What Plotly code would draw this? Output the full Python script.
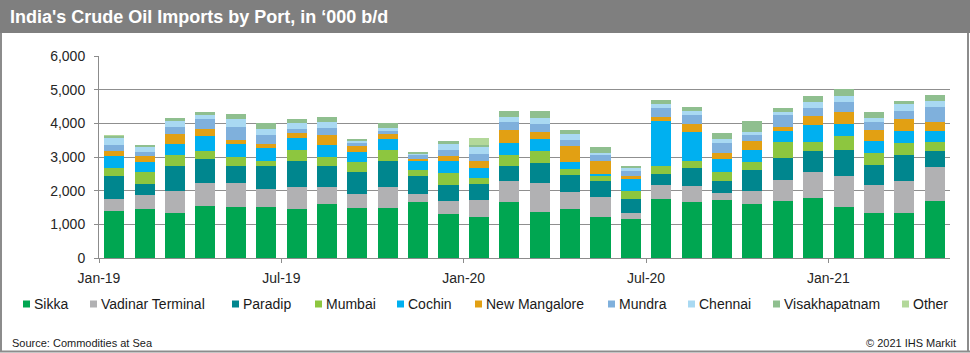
import plotly.graph_objects as go

months = ["Jan-19", "Feb-19", "Mar-19", "Apr-19", "May-19", "Jun-19", "Jul-19", "Aug-19",
          "Sep-19", "Oct-19", "Nov-19", "Dec-19", "Jan-20", "Feb-20", "Mar-20", "Apr-20",
          "May-20", "Jun-20", "Jul-20", "Aug-20", "Sep-20", "Oct-20", "Nov-20", "Dec-20",
          "Jan-21", "Feb-21", "Mar-21", "Apr-21"]

sikka = [1390, 1460, 1330, 1540, 1520, 1510, 1460, 1600, 1490, 1490, 1670, 1300, 1220, 1670,
         1360, 1450, 1220, 1170, 1750, 1660, 1710, 1600, 1700, 1790, 1510, 1350, 1330, 1680]
vadinar = [360, 400, 670, 700, 710, 545, 640, 500, 400, 610, 230, 400, 500, 620,
           870, 520, 590, 170, 410, 470, 230, 400, 620, 750, 930, 820, 960, 1010]
paradip = [690, 340, 720, 710, 510, 680, 790, 640, 650, 770, 540, 470, 480, 450,
           600, 500, 490, 400, 340, 550, 360, 600, 660, 640, 770, 590, 770, 490]
mumbai = [240, 340, 350, 240, 270, 160, 330, 270, 300, 350, 180, 350, 180, 330,
          340, 170, 140, 240, 240, 190, 240, 260, 460, 280, 415, 350, 350, 280]
cochin = [340, 300, 310, 430, 370, 385, 330, 360, 300, 300, 260, 370, 300, 350,
          350, 220, 70, 380, 1320, 870, 390, 360, 320, 490, 345, 380, 360, 300]
new_mangalore = [150, 200, 310, 210, 120, 100, 150, 280, 200, 150, 70, 150, 190, 370,
                 230, 460, 380, 80, 140, 230, 190, 250, 120, 270, 355, 310, 360, 270]
mundra = [180, 110, 200, 290, 390, 280, 140, 220, 80, 90, 120, 160, 220, 260,
          240, 180, 180, 140, 260, 280, 300, 180, 370, 250, 305, 250, 250, 470]
chennai = [200, 140, 180, 140, 230, 170, 180, 170, 50, 90, 30, 200, 200, 140,
           180, 180, 50, 80, 100, 130, 100, 100, 100, 170, 180, 120, 190, 170]
visakhapatnam = [80, 70, 100, 70, 150, 180, 120, 140, 60, 170, 40, 90, 60, 190,
                 210, 110, 170, 80, 140, 120, 200, 310, 100, 170, 200, 180, 100, 180]
other = [10, 0, 0, 0, 0, 0, 0, 0, 0, 0, 0, 0, 220, 0,
         0, 0, 0, 0, 0, 0, 0, 0, 0, 0, 0, 0, 0, 0]

series_names = ["Sikka", "Vadinar Terminal", "Paradip", "Mumbai", "Cochin", "New Mangalore",
                "Mundra", "Chennai", "Visakhapatnam", "Other"]
series_values = [sikka, vadinar, paradip, mumbai, cochin, new_mangalore, mundra, chennai,
                 visakhapatnam, other]
colors = ["#00a651", "#b1b1b3", "#00868e", "#8dc63f", "#00b0f0", "#e2a013",
          "#7fb0dc", "#a9d9f2", "#8fbf8f", "#b3d89a"]

tick_labels = ["Jan-19", "Jul-19", "Jan-20", "Jul-20", "Jan-21"]

W, H = 970, 353
L, R, T, B = 99, 20, 56, 95
PW, PH = W - L - R, H - T - B
FONT = "Liberation Sans, Arial, sans-serif"


def px(x):
    return (x - L) / PW


def py(y):
    return (H - B - y) / PH


xpos = [i + 0.5 for i in range(len(months))]

fig = go.Figure()
for name, vals, col in zip(series_names, series_values, colors):
    fig.add_trace(go.Bar(x=xpos, y=vals, name=name, marker=dict(color=col, line=dict(width=0)),
                         width=0.66, showlegend=False,
                         customdata=months, hovertemplate="%{customdata}<br>" + name + ": %{y:,}<extra></extra>"))

tickvals = [months.index(t) for t in tick_labels]

shapes = []
annotations = []

# title band
shapes.append(dict(type="rect", xref="paper", yref="paper", x0=px(0), x1=px(W), y0=py(33), y1=py(0),
                   fillcolor="#7f7f7f", line=dict(width=0), layer="below"))
# outer border
for (x0, y0, x1, y1) in [(1, 33, 1, 352), (968, 33, 968, 352), (0, 351.5, 970, 351.5)]:
    shapes.append(dict(type="line", xref="paper", yref="paper", x0=px(x0), x1=px(x1), y0=py(y0), y1=py(y1),
                       line=dict(color="#8c8c8c", width=2)))

# legend (custom, Excel-like spacing)
legend_x = [23, 90, 232, 315, 397, 475, 608, 688, 773, 902]
for name, col, lx in zip(series_names, colors, legend_x):
    shapes.append(dict(type="rect", xref="paper", yref="paper", x0=px(lx), x1=px(lx + 7),
                       y0=py(307.5), y1=py(300.5), fillcolor=col, line=dict(width=0)))
    annotations.append(dict(text=name, xref="paper", yref="paper", x=px(lx + 9), y=py(304),
                            xanchor="left", yanchor="middle", showarrow=False,
                            font=dict(family=FONT, size=14, color="#1a1a1a")))

annotations.append(dict(text="Source: Commodities at Sea", xref="paper", yref="paper", x=px(10), y=py(343),
                        xanchor="left", yanchor="middle", showarrow=False,
                        font=dict(family=FONT, size=11, color="#1a1a1a")))
annotations.append(dict(text="© 2021 IHS Markit", xref="paper", yref="paper", x=px(958), y=py(343),
                        xanchor="right", yanchor="middle", showarrow=False,
                        font=dict(family=FONT, size=11, color="#1a1a1a")))

fig.update_layout(
    width=W, height=H,
    margin=dict(l=L, r=R, t=T, b=B),
    paper_bgcolor="white", plot_bgcolor="white",
    barmode="stack",
    bargap=0.34,
    showlegend=False,
    title=dict(text="<b>India's Crude Oil Imports by Port, in ‘000 b/d</b>",
               x=10 / W, xanchor="left", xref="container",
               y=1 - 17 / H, yanchor="middle", yref="container",
               font=dict(family=FONT, size=18, color="white")),
    shapes=shapes,
    annotations=annotations,
    xaxis=dict(range=[0, len(months)], tickmode="array", tickvals=tickvals, ticktext=tick_labels,
               showgrid=False, zeroline=False, showline=True, linecolor="#8c8c8c", linewidth=1,
               ticks="outside", ticklen=4, tickcolor="#8c8c8c", ticklabelstandoff=3,
               tickfont=dict(family=FONT, size=14, color="#262626"), fixedrange=True),
    yaxis=dict(range=[0, 6000], dtick=1000, tickformat=",", showgrid=True, gridcolor="#8f8f8f",
               gridwidth=1, zeroline=False, showline=True, linecolor="#8c8c8c", linewidth=1,
               ticks="outside", ticklen=4, tickcolor="#8c8c8c", ticklabelstandoff=6,
               tickfont=dict(family=FONT, size=14, color="#262626"), fixedrange=True),
)

fig.write_html("out.html")
